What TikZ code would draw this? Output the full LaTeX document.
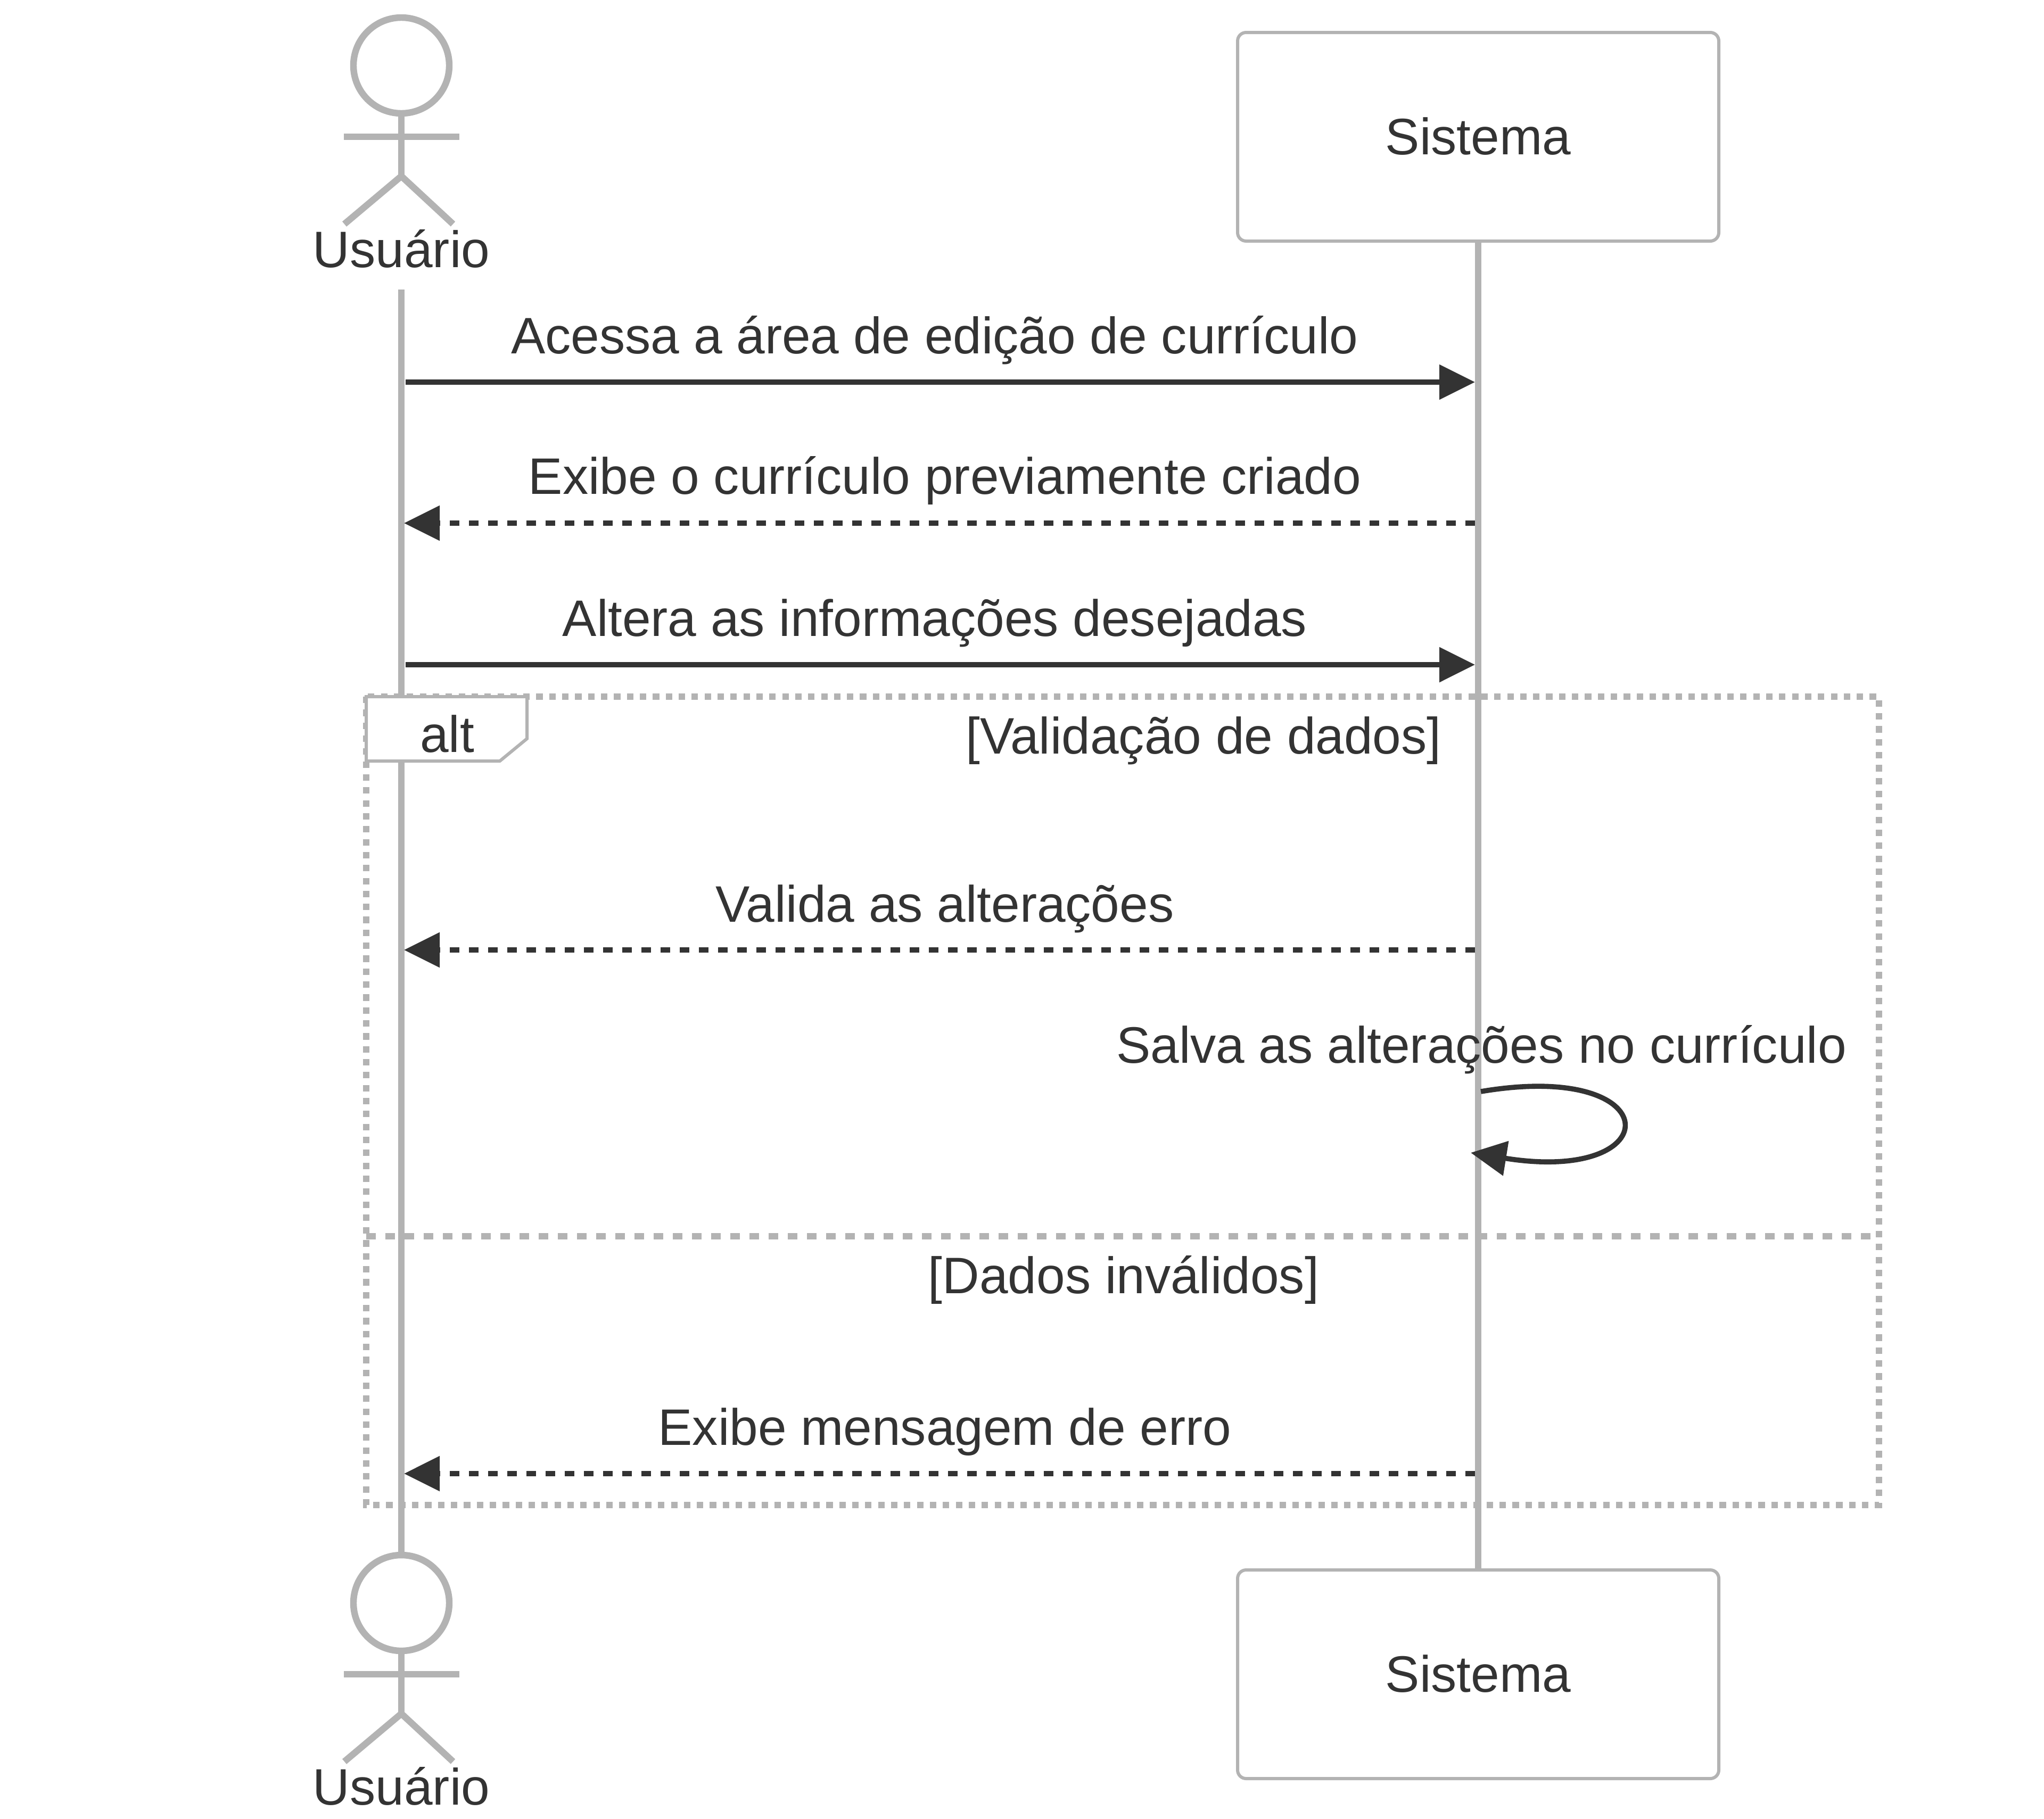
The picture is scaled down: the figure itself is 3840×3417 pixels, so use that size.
\documentclass[tikz,border=0pt]{standalone}
\usepackage{fontspec}
\setmainfont{Liberation Sans}
\usepackage{xcolor}
\usepackage{tikz}
\usetikzlibrary{arrows.meta}
\definecolor{linegrey}{HTML}{B3B3B3}
\definecolor{inktext}{HTML}{333333}
\tikzset{
  lifeline/.style={draw=linegrey, line width=3.1pt},
  actorhead/.style={circle, draw=linegrey, line width=3.1pt, fill=white, minimum size=45pt, inner sep=0pt},
  actorbody/.style={draw=linegrey, line width=3.1pt},
  sysbox/.style={draw=linegrey, line width=1.5pt, fill=white, rounded corners=4pt, minimum width=226pt, minimum height=98pt, inner sep=0pt},
  label/.style={text=inktext, font=\fontsize{24.1}{29}\selectfont, anchor=base, inner sep=0pt},
  msgline/.style={draw=inktext, line width=2.4pt, -{Triangle[length=16.75pt,width=16pt]}},
  msgdash/.style={msgline, dash pattern=on 4.5pt off 4.5pt},
  framedots/.style={draw=linegrey, line width=3.1pt, dash pattern=on 3.04pt off 3.04pt},
  framesplit/.style={draw=linegrey, line width=3.1pt, dash pattern=on 4.5pt off 4.5pt},
  alttag/.style={draw=linegrey, line width=1.5pt, fill=white}
}
\begin{document}
\begin{tikzpicture}[x=0.25pt, y=-0.25pt]
  \useasboundingbox (0,0) rectangle (3840,3417);
  % Lifelines
  \coordinate (usuarioStart) at (754,544);
  \coordinate (usuarioEnd) at (754,2930);
  \coordinate (sistemaStart) at (2777,453);
  \coordinate (sistemaEnd) at (2777,2950);
  \draw[lifeline] (usuarioStart) -- (usuarioEnd);
  \draw[lifeline] (sistemaStart) -- (sistemaEnd);
  % Actors and boxes, top and bottom
  \foreach \where/\dy in {Top/0,Bot/2889}
  {
    \node[actorhead] (head\where) at (754,{123+\dy}) {};
    \coordinate (hip\where) at (754,{331+\dy});
    \draw[actorbody] (head\where) -- (hip\where);
    \draw[actorbody] (646,{257+\dy}) -- (863,{257+\dy});
    \draw[actorbody] (647,{421+\dy}) -- (hip\where) -- (851,{421+\dy});
    \node[label] (usuario\where) at (754,{502+\dy}) {Usuário};
    \node[sysbox] (box\where) at (2777,{257+\dy}) {};
    \node[label] (sistema\where) at (2777,{290+\dy}) {Sistema};
  }
  % Frame
  \draw[framedots] (688,1309) rectangle (3530,2828);
  \draw[framesplit] (688,2323) -- (3530,2323);
  \draw[alttag] (688,1309) -- (990,1309) -- (990,1388) -- (939,1430) -- (688,1430) -- cycle;
  \node[label] (altText) at (840,1413) {alt};
  \node[label] (okCase) at (2261,1416) {[Validação de dados]};
  \node[label] (badCase) at (2111,2430) {[Dados inválidos]};
  % Messages
  \coordinate (m1a) at (762,718);
  \coordinate (m1b) at (2771,718);
  \coordinate (m2a) at (2771,983);
  \coordinate (m2b) at (759,983);
  \coordinate (m3a) at (762,1249);
  \coordinate (m3b) at (2771,1249);
  \coordinate (m4a) at (2771,1785);
  \coordinate (m4b) at (759,1785);
  \coordinate (m6a) at (2771,2769);
  \coordinate (m6b) at (759,2769);
  \draw[msgline] (m1a) -- (m1b);
  \node[label] (m1text) at (1756,664) {Acessa a área de edição de currículo};
  \draw[msgdash] (m2a) -- (m2b);
  \node[label] (m2text) at (1775,928) {Exibe o currículo previamente criado};
  \draw[msgline] (m3a) -- (m3b);
  \node[label] (m3text) at (1756,1195) {Altera as informações desejadas};
  \draw[msgdash] (m4a) -- (m4b);
  \node[label] (m4text) at (1775,1732) {Valida as alterações};
  % Self message
  \coordinate (m5a) at (2782,2051);
  \coordinate (m5b) at (2763,2166);
  \draw[msgline] (m5a) .. controls (3136,1991) and (3136,2226) .. (m5b);
  \node[label] (m5text) at (2783,1997) {Salva as alterações no currículo};
  \draw[msgdash] (m6a) -- (m6b);
  \node[label] (m6text) at (1775,2715) {Exibe mensagem de erro};
\end{tikzpicture}
\end{document}
